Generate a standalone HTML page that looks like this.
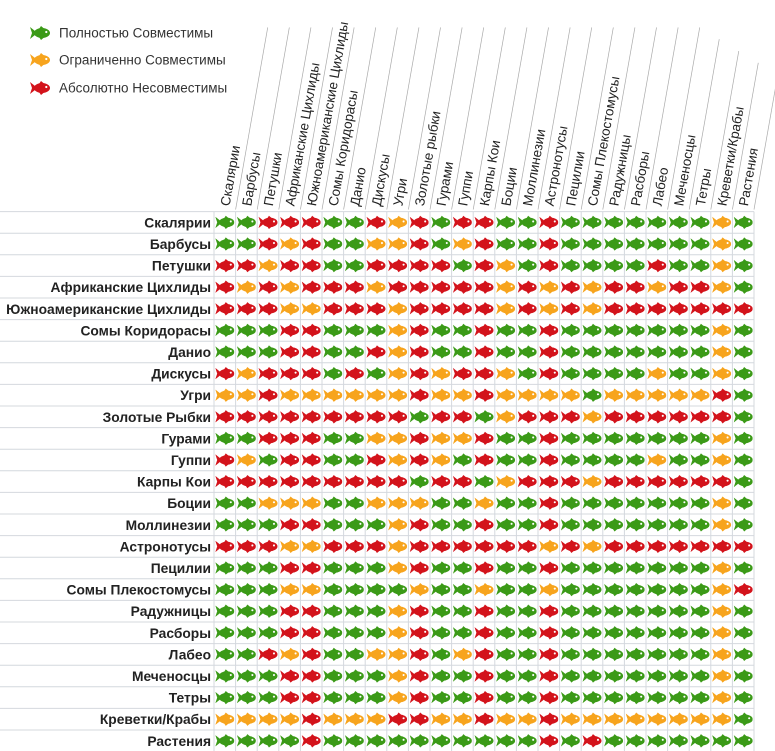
<!DOCTYPE html>
<html><head><meta charset="utf-8"><style>
html,body{margin:0;padding:0;background:#fff;}
svg{display:block;font-family:"Liberation Sans","DejaVu Sans",sans-serif;}
</style></head><body>
<svg id="s" width="775" height="751" xmlns="http://www.w3.org/2000/svg">
<defs>
<symbol id="f" viewBox="0 0 20 14">
<path d="M0,1 L5,5 L5,9 L0,13 L2,7 Z"/>
<ellipse cx="12" cy="7" rx="8" ry="5"/>
<path d="M9,3 L11,0 L14,2.5 Z M9,11 L11,14 L14,11.5 Z"/>
<circle cx="16.3" cy="6" r="1.1" fill="#fff"/>
</symbol>
</defs>
</svg>
<script>
var s=document.getElementById('s'),NS='http://www.w3.org/2000/svg';
function el(t,a,txt){var e=document.createElementNS(NS,t);for(var k in a)e.setAttribute(k,a[k]);if(txt)e.textContent=txt;s.appendChild(e);return e;}
var C={G:'#3b9a17',O:'#f7a41d',R:'#d3131b'};
var names=["Скалярии","Барбусы","Петушки","Африканские Цихлиды","Южноамериканские Цихлиды","Сомы Коридорасы","Данио","Дискусы","Угри","Золотые Рыбки","Гурами","Гуппи","Карпы Кои","Боции","Моллинезии","Астронотусы","Пецилии","Сомы Плекостомусы","Радужницы","Расборы","Лабео","Меченосцы","Тетры","Креветки/Крабы","Растения"];
var cols=["Скалярии","Барбусы","Петушки","Африканские Цихлиды","Южноамериканские Цихлиды","Сомы Коридорасы","Данио","Дискусы","Угри","Золотые рыбки","Гурами","Гуппи","Карпы Кои","Боции","Моллинезии","Астронотусы","Пецилии","Сомы Плекостомусы","Радужницы","Расборы","Лабео","Меченосцы","Тетры","Креветки/Крабы","Растения"];
var M=[
"GGRRRGGRORGRR"+"GGRGGGGGGGOG",
"GGRORGGOORGOR"+"GGRGGGGGGGOG",
"RRORRGGRRRRGR"+"OGRGGGGRGGOG",
"RORORRRORRRRR"+"ORORORRORROG",
"RRROORRRORRRR"+"ORORORRRRRRR",
"GGGRRGGGORGGR"+"GGRGGGGGGGOG",
"GGGRRGGRORGGR"+"GGRGGGGGGGOG",
"RORRRGRGORORR"+"OGRGGGGOGGOG",
"OOROOOOOOROOR"+"OOOOGOOOOORG",
"RRRRRRRRRGRRG"+"ORRRORRRRRRG",
"GGRRRGGOOROOR"+"GGRGGGGGGGOG",
"ROGRRGGROROGR"+"GGRGGGGOGGOG",
"RRRRRRRRRGRRG"+"ORRRORRRRRRG",
"GGOOOGGOOOGGO"+"GGRGGGGGGGOG",
"GGGRRGGGORGGR"+"GGRGGGGGGGOG",
"RRROORRRORRRR"+"RRORORRRRRRR",
"GGGRRGGGORGGR"+"GGRGGGGGGGOG",
"GGGOOGGGGOGGO"+"GGOGGGGGGGOR",
"GGGRRGGGORGGR"+"GGRGGGGGGGOG",
"GGGRRGGGORGGR"+"GGRGGGGGGGOG",
"GGRORGGOORGOR"+"GGRGGGGGGGOG",
"GGGRRGGGORGGR"+"GGRGGGGGGGOG",
"GGGRRGGGORGGR"+"GGRGGGGGGGOG",
"OOOOROOORROOR"+"OOROOOOOOOOG",
"GGGGRGGGGGGGG"+"GGRGRGGGGGGG"
];
var X0=214,Y0=211.6,W=21.6;
[["G","Полностью Совместимы",33],["O","Ограниченно  Совместимы",60],["R","Абсолютно  Несовместимы",88]].forEach(function(l){
el('use',{href:'#f',x:30,y:l[2]-7,width:20,height:14,fill:C[l[0]]});
el('text',{x:59,y:l[2]+4.5,'font-size':13.5,fill:'#333','xml:space':'preserve'},l[1]);
});
for(var i=0;i<=25;i++){
el('line',{x1:0,y1:Y0+i*W,x2:X0+25*W,y2:Y0+i*W,stroke:'#d4d8de','stroke-width':1});
el('line',{x1:X0+i*W,y1:Y0,x2:X0+i*W,y2:751,stroke:'#d4d8de','stroke-width':1});
}
var a=-80*Math.PI/180;
for(var i=0;i<25;i++){
var bx=X0+(i+1)*W, L=185-(i>20?(i-20)*12:0);
el('line',{x1:bx,y1:Y0-2,x2:bx+L*Math.cos(a),y2:Y0-2+L*Math.sin(a),stroke:'#aaa','stroke-width':0.7});
var tx=X0+i*W+15.5, ty=Y0-5;
el('text',{x:tx,y:ty,'font-size':13.5,fill:'#222',transform:'rotate(-80 '+tx+' '+ty+')'},cols[i]);
}
for(var r=0;r<25;r++){
var cy=Y0+r*W+W/2;
el('text',{x:211,y:cy+5,'font-size':13.8,'font-weight':'bold','text-anchor':'end',fill:'#222'},names[r]);
for(var c=0;c<25;c++){
var ch=M[r][c]||'G';
el('use',{href:'#f',x:X0+c*W+1.3,y:cy-7,width:19,height:14,fill:C[ch]});
}
}
</script>
</body></html>
